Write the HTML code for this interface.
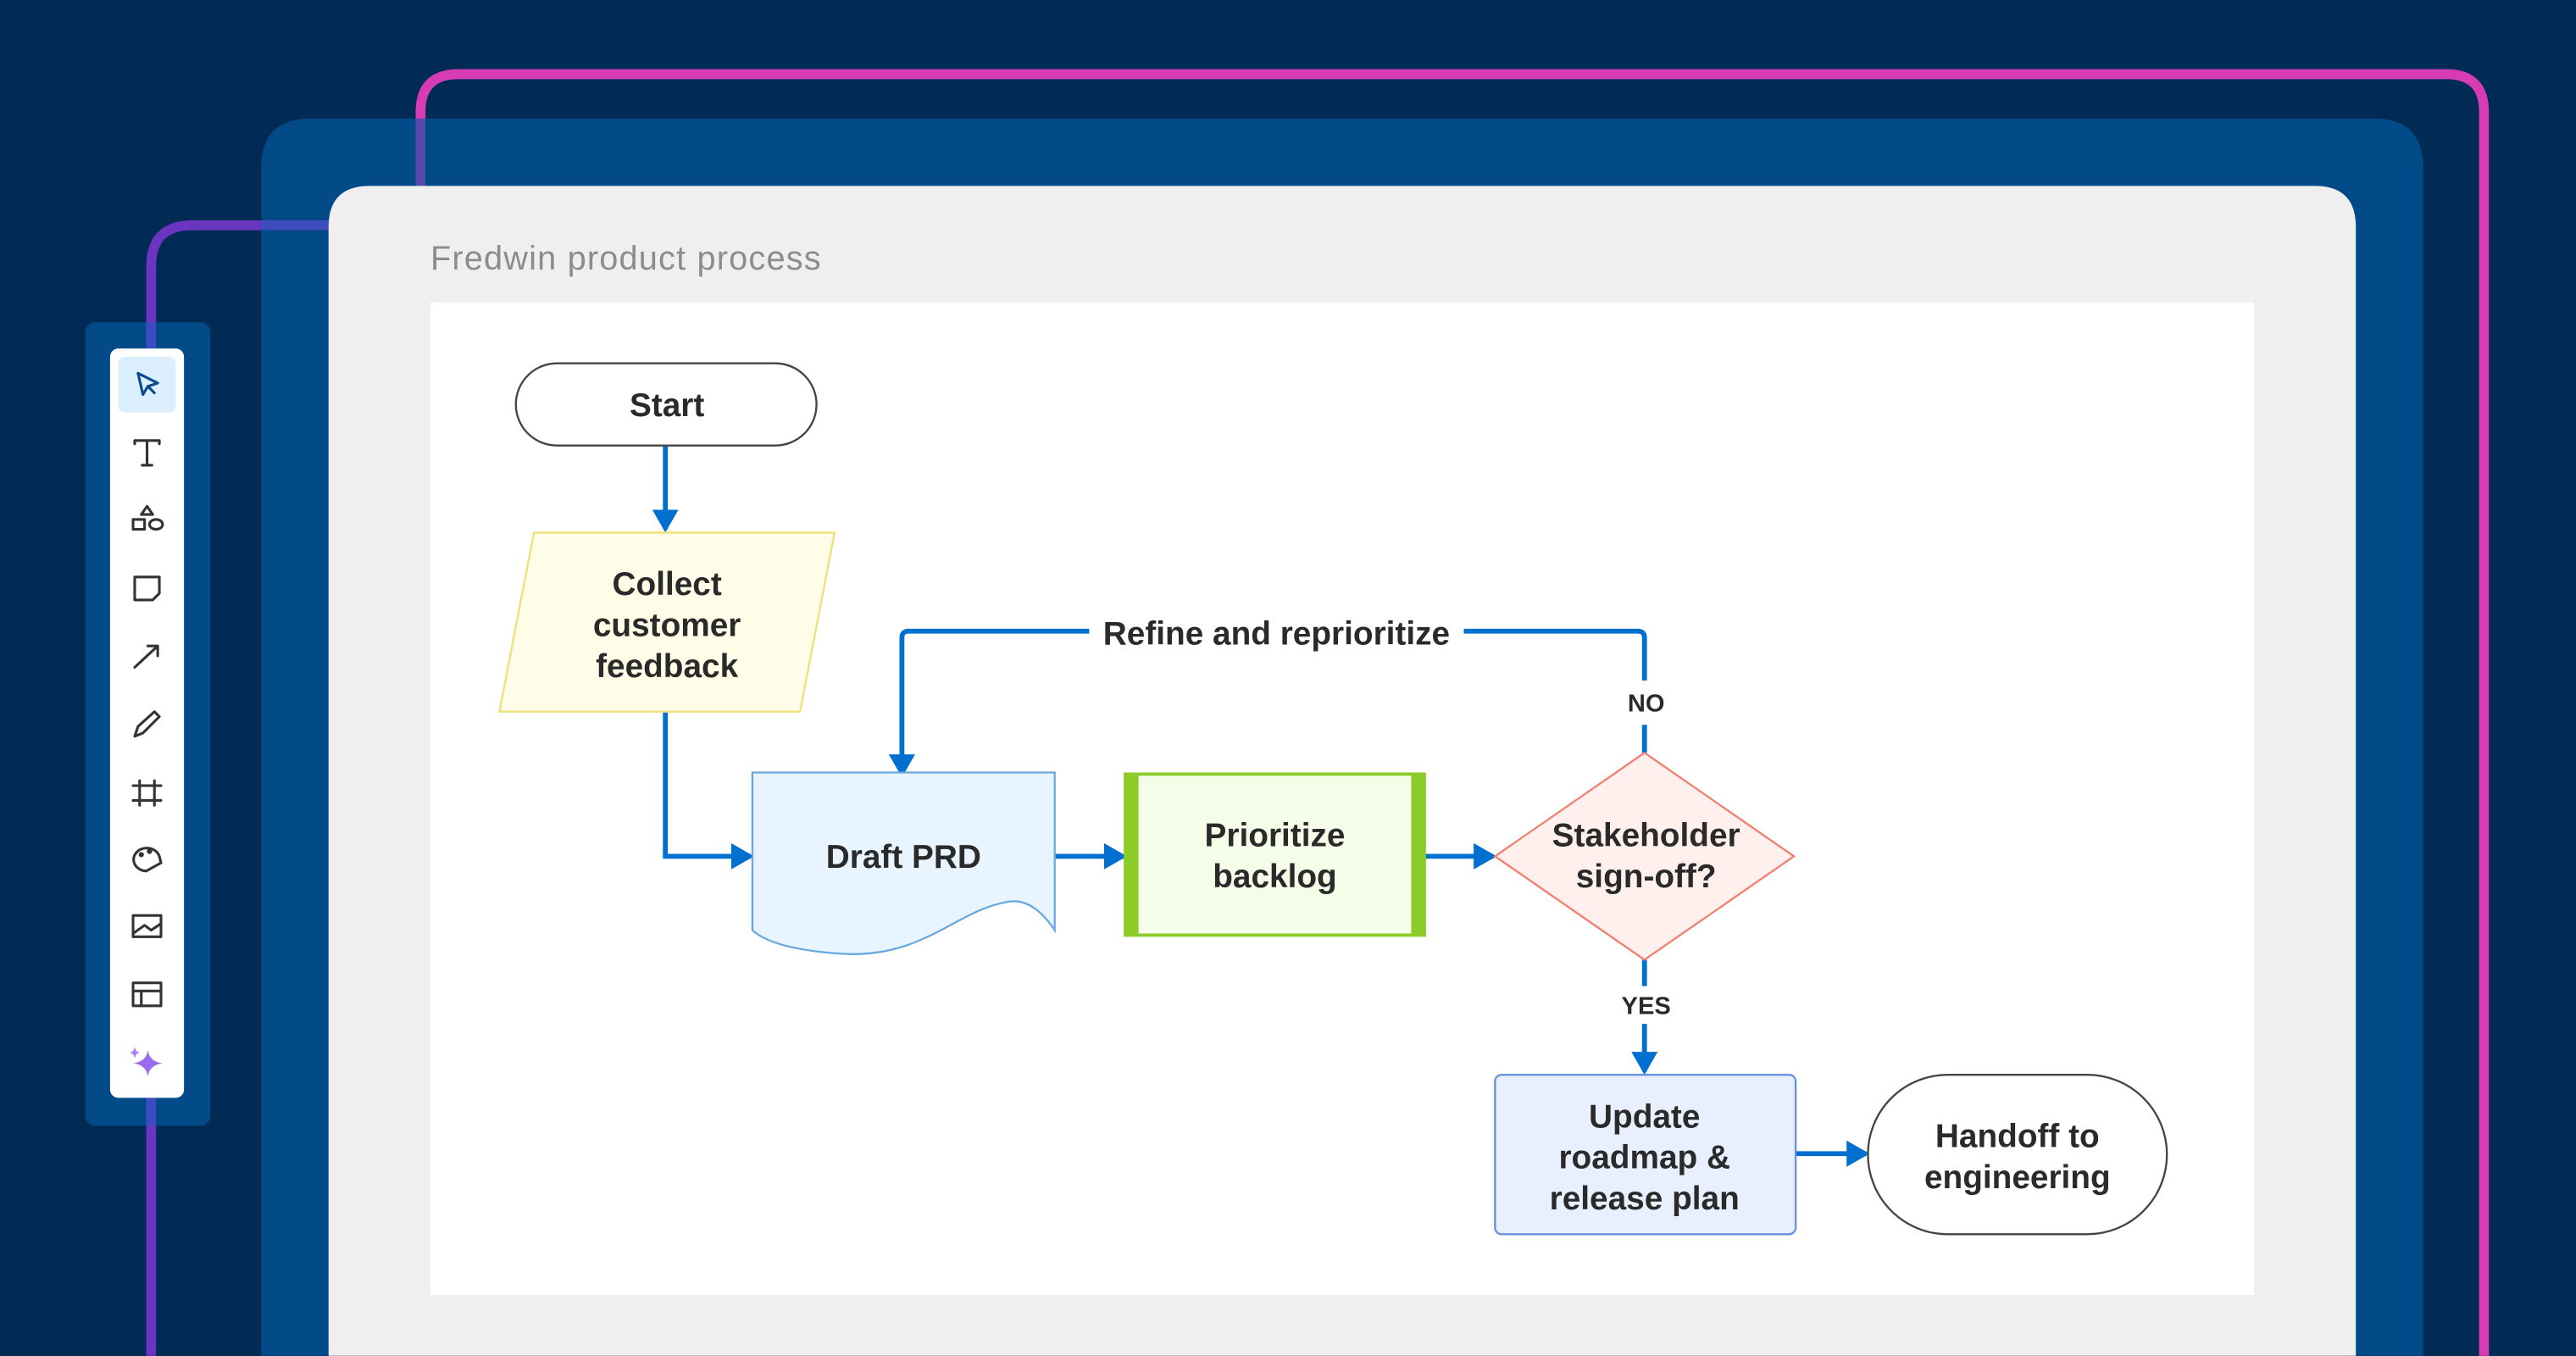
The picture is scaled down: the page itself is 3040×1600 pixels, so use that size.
<!DOCTYPE html>
<html><head><meta charset="utf-8"><style>
html,body{margin:0;padding:0;background:#012b55;width:3040px;height:1600px;overflow:hidden;}
svg{display:block}
text{font-family:"Liberation Sans",sans-serif;}
</style></head><body>
<svg width="3040" height="1600" viewBox="0 0 1568 825" xmlns="http://www.w3.org/2000/svg">
<defs>
<marker id="ah" markerWidth="14" markerHeight="16" refX="12" refY="8" orient="auto" markerUnits="userSpaceOnUse">
<path d="M0,0 L14,8 L0,16 Z" fill="#0070d0"/>
</marker>
</defs>
<rect width="1568" height="825" fill="#012b55"/>
<path d="M92,825 V162 Q92,137 117,137 H210" fill="none" stroke="#6a35c0" stroke-width="6"/>
<path d="M256,120 V68 Q256,45 279,45 H1489 Q1512,45 1512,68 V825" fill="none" stroke="#d83cb4" stroke-width="6"/>
<path d="M159,825 V102 Q159,72 189,72 H1445 Q1475,72 1475,102 V825 Z" fill="#034a88"/>
<path d="M256,72 V120" stroke="#8a4ac0" stroke-width="6" opacity="0.6"/>
<path d="M159,137 H210" stroke="#3f4cc0" stroke-width="6"/>
<path d="M200,825 V138 Q200,113 225,113 H1409 Q1434,113 1434,138 V825 Z" fill="#efefef"/>
<text x="262" y="164" font-size="20.5" letter-spacing="0.6" fill="#8c8c8c">Fredwin product process</text>
<rect x="262" y="184" width="1110" height="604" fill="#ffffff"/>
<rect x="52" y="196" width="76" height="489" rx="6" fill="#034a88"/>
<path d="M92,196 V212 M92,668 V685" stroke="#3a4cc0" stroke-width="6"/>
<rect x="67" y="212" width="45" height="456" rx="5" fill="#ffffff"/>
<rect x="72" y="217" width="35" height="34" rx="4" fill="#dcefff"/>
<g fill="none" stroke="#333" stroke-width="1.6" stroke-linejoin="round" stroke-linecap="round">
<path d="M84,227 L96,233 L90,235 L87,240 Z" stroke="#0a4a8a"/>
<path d="M90,235 L94,239" stroke="#0a4a8a"/>
<path d="M82,270 V268 H97 V270 M89.5,268 V283 M86.5,283 H92.5"/>
<path d="M89.5,308 L93,313 H86 Z"/><rect x="81" y="316" width="7" height="6"/><ellipse cx="95" cy="319" rx="4" ry="3"/>
<path d="M82,351 H97 V361 L93,365 H82 Z"/>
<path d="M82,406 L96,393 M90,393 H96 V399"/>
<path d="M82,448 L84,442 L94,433 L97,436 L87,446 Z"/>
<path d="M85,475 V490 M94,475 V490 M81,478 H98 M81,487 H98"/>
<path d="M97,521 A8,7 0 1 0 89,530 L98,525 Z"/><circle cx="86" cy="520" r="0.8" fill="#333"/><circle cx="91" cy="518" r="0.8" fill="#333"/>
<rect x="81" y="557" width="17" height="13"/><path d="M81,568 L88,563 L92,566 L98,562" />
<rect x="81" y="598" width="17" height="14"/><path d="M81,603 H98 M86,603 V612"/>
</g>
<path d="M90,639 Q91,646 99,647 Q91,648 90,655 Q89,648 81,647 Q89,646 90,639 Z" fill="#9a6af0"/>
<path d="M82,637 Q82.5,640 85,640.5 Q82.5,641 82,644 Q81.5,641 79,640.5 Q81.5,640 82,637 Z" fill="#b080f8"/>

<g fill="none" stroke="#0070d0" stroke-width="3">
<path d="M405,271 V322" marker-end="url(#ah)"/>
<path d="M405,433 V521 H457" marker-end="url(#ah)"/>
<path d="M642,521 H684" marker-end="url(#ah)"/>
<path d="M867,521 H909" marker-end="url(#ah)"/>
<path d="M1001,458 V441"/>
<path d="M1001,414 V388 Q1001,384 997,384 H891"/>
<path d="M663,384 H553 Q549,384 549,388 V471" marker-end="url(#ah)"/>
<path d="M1001,584 V600"/>
<path d="M1001,623 V652" marker-end="url(#ah)"/>
<path d="M1093,702 H1136" marker-end="url(#ah)"/>
</g>

<rect x="314" y="221" width="183" height="50" rx="25" fill="#fff" stroke="#444" stroke-width="1.2"/>
<polygon points="325,324 508,324 487,433 304,433" fill="#fffde8" stroke="#f0e07a" stroke-width="1.2"/>
<path d="M458,470 H642 V566 Q628,545 612,549 C580,555 560,585 508,580 Q470,577 458,566 Z" fill="#e8f4ff" stroke="#6aa8e0" stroke-width="1.2"/>
<rect x="685" y="471" width="182" height="98" fill="#f5fde8" stroke="#8dcc28" stroke-width="2"/>
<rect x="685" y="471" width="8" height="98" fill="#8dcc28"/>
<rect x="859" y="471" width="8" height="98" fill="#8dcc28"/>
<polygon points="1001,458 1092,521 1001,584 910,521" fill="#fff0ee" stroke="#f08070" stroke-width="1.2"/>
<rect x="910" y="654" width="183" height="97" rx="4" fill="#e8efff" stroke="#6a90e0" stroke-width="1.2"/>
<rect x="1137" y="654" width="182" height="97" rx="48.5" fill="#fff" stroke="#444" stroke-width="1.2"/>

<g font-size="20" font-weight="bold" fill="#2a2a2a" text-anchor="middle">
<text x="406" y="253">Start</text>
<text x="406" y="362">Collect</text>
<text x="406" y="387">customer</text>
<text x="406" y="412">feedback</text>
<text x="550" y="528">Draft PRD</text>
<text x="776" y="515">Prioritize</text>
<text x="776" y="540">backlog</text>
<text x="1002" y="515">Stakeholder</text>
<text x="1002" y="540">sign-off?</text>
<text x="777" y="392">Refine and reprioritize</text>
<text x="1001" y="686">Update</text>
<text x="1001" y="711">roadmap &amp;</text>
<text x="1001" y="736">release plan</text>
<text x="1228" y="698">Handoff to</text>
<text x="1228" y="723">engineering</text>
<text x="1002" y="433" font-size="15">NO</text>
<text x="1002" y="617" font-size="15">YES</text>
</g>
</svg>
</body></html>
